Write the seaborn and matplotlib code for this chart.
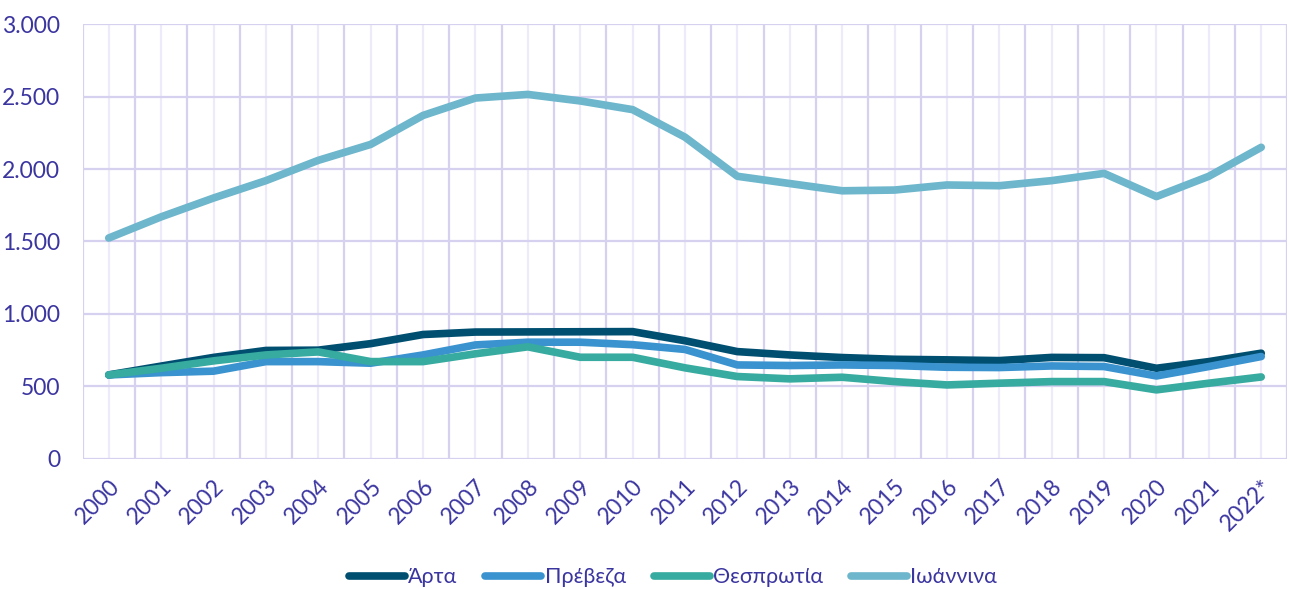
import numpy as np
import pandas as pd
import seaborn as sns
import matplotlib.pyplot as plt
from matplotlib.ticker import FuncFormatter, MultipleLocator

# data
years = [str(y) for y in range(2000, 2022)] + ['2022*']
arta = [579, 640, 700, 748, 750, 795, 858, 875, 876, 877, 878, 815,
        740, 717, 699, 687, 683, 678, 700, 698, 625, 671, 729]
preveza = [579, 595, 605, 671, 671, 660, 717, 786, 805, 805, 788, 755,
           648, 644, 648, 644, 632, 630, 641, 637, 572, 637, 706]
thesprotia = [579, 625, 676, 717, 738, 671, 671, 725, 773, 701, 701, 628,
              568, 552, 563, 533, 510, 522, 533, 533, 476, 522, 565]
ioannina = [1524, 1670, 1800, 1920, 2060, 2170, 2370, 2490, 2515, 2470, 2410, 2220,
            1950, 1900, 1850, 1855, 1890, 1885, 1920, 1970, 1810, 1950, 2150]

names = ['Άρτα', 'Πρέβεζα', 'Θεσπρωτία', 'Ιωάννινα']
colors = ['#004F71', '#3A93CF', '#37AB9F', '#6DB6CC']
text_color = '#3B35A0'

df = pd.DataFrame({'year': years * 4,
                   'value': arta + preveza + thesprotia + ioannina,
                   'area': np.repeat(names, len(years))})

sns.set_style('white')
plt.rcParams['font.family'] = ['Lato', 'DejaVu Sans']

fig = plt.figure(figsize=(12.9, 5.89), dpi=100)
ax = fig.add_axes([0.064, 0.221, 0.934, 0.738])

sns.lineplot(data=df, x='year', y='value', hue='area', hue_order=names,
             palette=colors, linewidth=5.5, ax=ax, sort=False,
             solid_capstyle='round', solid_joinstyle='round', zorder=3)

ax.set_xlim(-0.5, len(years) - 0.5)
ax.set_ylim(0, 3000)
ax.yaxis.set_major_locator(MultipleLocator(500))
ax.yaxis.set_major_formatter(FuncFormatter(lambda v, p: f'{int(v):,}'.replace(',', '.')))

# boundaries as major grid, category centres as lighter minor grid
ax.set_xticks(np.arange(-0.5, len(years), 1.0))
ax.set_xticklabels([])
ax.set_xticks(np.arange(len(years)), minor=True)
ax.set_xticklabels(years, minor=True, rotation=45, ha='right',
                   rotation_mode='anchor', color=text_color, fontsize=16.5)
ax.grid(True, which='major', color='#D6D1EF', linewidth=1.6)
ax.grid(True, which='minor', axis='x', color='#EDEBF9', linewidth=1.6)
ax.tick_params(axis='x', which='both', length=0)
ax.tick_params(axis='x', which='minor', pad=12)
ax.tick_params(axis='y', length=0, pad=16, labelsize=16.5, labelcolor=text_color)
for s in ax.spines.values():
    s.set_visible(False)
ax.axhline(0, color='#D6D1EF', linewidth=2, zorder=1)

ax.set_xlabel('')
ax.set_ylabel('')
leg = ax.legend(loc='center', bbox_to_anchor=(0.49, -0.272), ncol=4, frameon=False,
                fontsize=15.5, handlelength=2.6, columnspacing=1.3, handletextpad=0.15)
for t in leg.get_texts():
    t.set_color(text_color)
for h in leg.get_lines():
    h.set_linewidth(5.5)

fig.savefig('out.png', dpi=100)
